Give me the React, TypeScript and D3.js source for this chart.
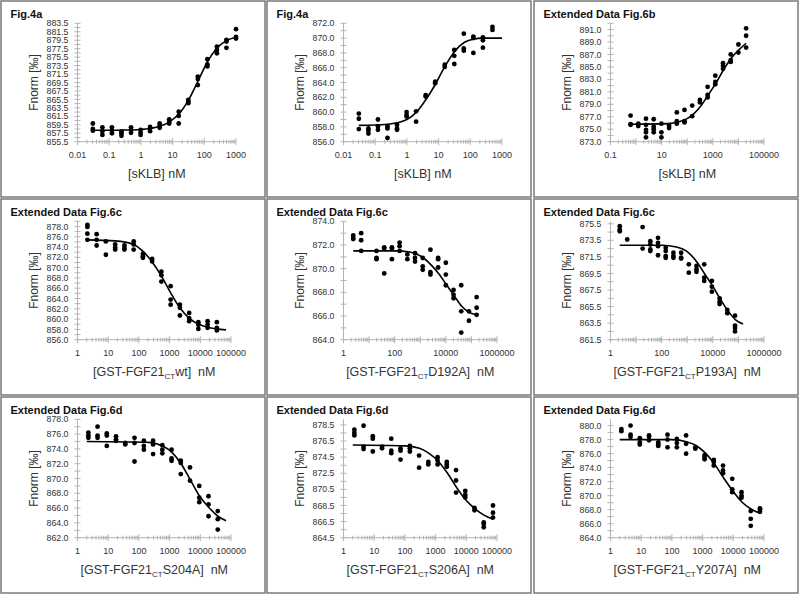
import React from 'react';
import * as d3 from 'd3';

// ---------- data ----------
// Panel 1: Fig.4a  [sKLB]
const p1Conc = [0.0305, 0.061, 0.122, 0.244, 0.488, 0.977, 1.95, 3.91, 7.81, 15.6, 31.3, 62.5, 125, 250, 500, 1000];
const p1Reps = [
  [859.8, 858.5, 858.1], [858.9, 858.0, 857.1], [858.9, 858.1, 857.5], [857.9, 857.5, 856.9],
  [858.9, 858.3, 857.6], [858.3, 857.6, 857.1], [859.0, 858.7, 858.0], [859.8, 859.3, 858.8],
  [860.8, 860.2, 859.8], [862.6, 861.6, 859.8], [865.4, 865.0, 864.6], [870.9, 870.3, 868.9],
  [875.0, 873.8, 873.3], [878.0, 877.2, 876.4], [879.6, 879.2, 877.7], [882.1, 880.3, 879.9],
];
const p1FitX = [0.0305, 0.1, 0.3, 1, 3, 8, 16, 32, 64, 125, 250, 500, 1000];
const p1FitY = [858.2, 858.2, 858.25, 858.4, 858.9, 860.2, 862.1, 865.4, 869.9, 874.4, 877.6, 879.4, 880.2];

// Panel 2: Fig.4a  [sKLB]
const p2Conc = [0.0305, 0.061, 0.122, 0.244, 0.488, 0.977, 1.95, 3.91, 7.81, 15.6, 31.3, 62.5, 125, 250, 500];
const p2Reps = [
  [859.8, 859.1, 857.7], [857.8, 857.5, 857.1], [859.0, 858.1, 857.6], [858.1, 857.8, 856.5],
  [858.3, 857.8, 857.6], [860.0, 859.6, 859.4], [860.1, 858.7], [862.3, 862.1],
  [864.1, 863.9], [866.4, 866.1], [868.4, 867.6, 866.5], [870.6, 868.6, 868.3],
  [870.2, 870.0, 868.0], [870.1, 869.7, 868.7], [871.5, 871.1],
];
const p2FitX = [0.0305, 0.1, 0.3, 1, 2, 4, 8, 16, 32, 64, 125, 250, 500, 1000];
const p2FitY = [858.2, 858.25, 858.4, 859.0, 860.0, 861.7, 863.8, 866.2, 868.2, 869.4, 869.85, 870.0, 870.0, 870.0];

// Panel 3: Extended Data Fig.6b  [sKLB]
const p3Conc = [0.61, 1.22, 2.44, 4.88, 9.77, 19.5, 39.1, 78.1, 156, 313, 625, 1250, 2500, 5000, 10000, 20000];
const p3Reps = [
  [877.2, 875.8, 875.7], [875.9, 875.5], [876.7, 875.7, 874.9, 874.5, 873.7], [876.6, 875.4, 875.0, 874.5],
  [875.9, 874.5, 873.7], [875.6, 875.2], [877.7, 876.3, 875.9], [878.1, 876.3, 876.1],
  [878.8, 877.1], [879.7, 879.3], [881.8, 880.5, 880.1], [883.6, 882.6, 882.2],
  [885.6, 885.2, 884.7], [887.0, 886.1, 885.8], [888.6, 887.3], [891.2, 890.0, 888.1],
];
const p3FitX = [0.61, 17, 79, 170, 363, 660, 1410, 2590, 5210, 10200, 20000];
const p3FitY = [875.8, 875.9, 876.5, 877.4, 878.9, 880.5, 882.6, 884.5, 886.4, 887.7, 888.8];

// Panel 4: Extended Data Fig.6c  wt
const p4Conc = [2.1, 4.2, 8.4, 16.9, 33.8, 67.6, 135, 270, 540, 1080, 2160, 4330, 8650, 17300, 34600];
const p4Reps = [
  [878.3, 877.9, 876.6, 875.4], [876.5, 875.4, 874.3], [875.1, 872.5], [874.5, 873.9, 873.5],
  [874.3, 873.8, 873.5], [875.1, 874.5, 873.5], [872.7, 872.2, 871.9], [871.7, 871.2],
  [869.2, 868.5, 867.3], [866.4, 863.8, 862.8], [862.8, 862.2, 860.7], [861.2, 860.2, 859.6],
  [859.4, 858.9, 858.1], [859.6, 858.9, 858.3], [859.4, 858.3, 857.8],
];
const p4FitX = [2, 17, 67, 134, 263, 526, 1085, 2150, 4330, 8840, 17600, 34500, 68700];
const p4FitY = [875.4, 875.2, 874.5, 873.2, 871.2, 868.5, 865.1, 862.2, 860.2, 859.0, 858.4, 858.1, 857.9];

// Panel 5: Extended Data Fig.6c  D192A
const p5Conc = [2.4, 4.9, 19.5, 39, 78, 156, 313, 625, 1250, 2500, 5000, 10000, 20000, 40000, 80000, 160000];
const p5Reps = [
  [872.8, 872.6, 872.5], [873.0, 872.4, 871.5], [871.5, 870.9, 870.8], [871.8, 871.7, 869.6],
  [871.8, 871.7, 870.8], [872.2, 871.9, 871.5], [871.2, 870.8], [871.3, 870.9, 870.6],
  [870.9, 870.2, 869.9], [871.6, 869.7, 869.5], [870.9, 870.8, 870.1], [870.5, 869.5, 868.6],
  [868.2, 867.8, 867.5], [868.6, 866.4, 864.6], [866.4, 865.6], [867.6, 866.7, 866.1],
];
const p5FitX = [2.4, 100, 400, 1350, 2700, 5200, 10900, 21300, 42600, 82800, 165000];
const p5FitY = [871.5, 871.5, 871.4, 870.9, 870.3, 869.6, 868.6, 867.7, 866.8, 866.3, 866.1];

// Panel 6: Extended Data Fig.6c  P193A
const p6Conc = [2.3, 4.5, 18, 36, 72, 144, 288, 576, 1150, 2300, 4600, 9200, 18400, 36800, 73600];
const p6Reps = [
  [875.2, 874.8, 874.6], [873.6], [875.1, 872.5], [873.4, 873.0, 872.4, 872.2],
  [873.8, 873.2, 872.8, 871.7], [872.6, 872.2, 871.6, 871.4], [872.0, 871.6, 871.4], [872.0, 871.4, 871.3],
  [870.6, 869.6], [870.4, 870.0, 869.7], [870.6, 869.0, 868.6], [868.6, 867.9, 867.3],
  [866.5, 866.1, 865.8], [865.1, 864.7], [864.4, 863.2, 862.9, 862.5],
];
const p6FitX = [2.3, 100, 380, 940, 2500, 4900, 9800, 18800, 36700, 77500, 152000];
const p6FitY = [872.9, 872.9, 872.7, 872.2, 870.8, 869.4, 868.0, 866.5, 865.1, 863.9, 863.4];

// Panel 7: Extended Data Fig.6d  S204A
const p7Conc = [2.26, 4.5, 9, 18, 36, 72, 145, 290, 580, 1160, 2310, 4630, 9250, 18500, 37000];
const p7Reps = [
  [876.2, 875.8, 875.5], [877.0, 875.8, 875.5], [876.1, 875.8, 874.4], [875.7, 875.3, 875.1],
  [874.8, 874.6], [875.5, 874.8, 872.3], [875.1, 874.4, 873.9], [875.1, 874.6, 873.3],
  [874.5, 873.9, 873.4], [873.9, 872.7, 872.4], [872.4, 872.1, 870.6], [871.5, 869.7],
  [869.0, 867.4, 866.8], [867.6, 866.5, 864.9], [865.6, 864.5, 863.1],
];
const p7FitX = [2.0, 181, 594, 1220, 2450, 4890, 9500, 19000, 37600, 69000];
const p7FitY = [875.0, 874.9, 874.4, 873.5, 871.9, 869.7, 867.6, 866.1, 864.9, 864.3];

// Panel 8: Extended Data Fig.6d  S206A
const p8Conc = [2.26, 4.5, 9, 18, 36, 72, 145, 290, 580, 1160, 2310, 4630, 9250, 18500, 37000, 74000];
const p8Reps = [
  [877.9, 877.5, 877.2], [878.4, 875.8, 875.5], [877.1, 876.8, 875.2], [875.8, 875.6],
  [876.8, 875.3, 875.0], [875.6, 875.3, 874.2], [875.9, 875.6, 875.2], [874.7, 873.2],
  [873.9, 873.6], [874.5, 874.1, 873.6], [873.9, 873.6, 873.3], [872.9, 871.6, 870.1],
  [870.3, 869.8, 869.5], [868.2, 867.9], [866.4, 866.2, 865.8], [868.5, 867.6, 867.0],
];
const p8FitX = [2.0, 100, 297, 594, 1220, 2450, 4890, 9500, 19000, 37600, 74000];
const p8FitY = [876.0, 875.9, 875.6, 875.0, 874.0, 872.5, 870.7, 869.2, 868.1, 867.3, 866.8];

// Panel 9: Extended Data Fig.6d  Y207A
const p9Conc = [2.26, 4.5, 9, 18, 36, 72, 145, 290, 580, 1160, 2310, 4630, 9250, 18500, 37000, 74000];
const p9Reps = [
  [879.5, 879.2], [880.0, 878.7, 878.4], [878.2, 877.6, 877.3], [878.6, 878.4, 877.9],
  [877.6, 877.3, 877.1], [878.7, 878.0, 876.9], [878.1, 877.5, 876.9], [878.6, 877.4, 876.0],
  [876.9, 876.7], [875.8, 875.5, 875.2], [875.1, 874.8, 874.3], [874.3, 873.6, 873.2],
  [872.4, 870.9, 870.5], [870.5, 870.0, 869.7], [867.8, 866.7, 865.7], [868.2, 868.0, 867.7],
];
const p9FitX = [2.0, 100, 297, 594, 1220, 2450, 4890, 9500, 19000, 37600, 74000];
const p9FitY = [878.0, 878.0, 877.7, 877.2, 876.1, 874.5, 872.5, 870.7, 869.1, 868.1, 867.5];

// Titles, axis labels, tick labels
const titles = [
  'Fig.4a', 'Fig.4a', 'Extended Data Fig.6b',
  'Extended Data Fig.6c', 'Extended Data Fig.6c', 'Extended Data Fig.6c',
  'Extended Data Fig.6d', 'Extended Data Fig.6d', 'Extended Data Fig.6d',
];
const xTitles: [string, string, string][] = [
  ['[sKLB] nM', '', ''], ['[sKLB] nM', '', ''], ['[sKLB] nM', '', ''],
  ['[GST-FGF21', 'CT', 'wt]\u00a0 nM'], ['[GST-FGF21', 'CT', 'D192A]\u00a0 nM'], ['[GST-FGF21', 'CT', 'P193A]\u00a0 nM'],
  ['[GST-FGF21', 'CT', 'S204A]\u00a0 nM'], ['[GST-FGF21', 'CT', 'S206A]\u00a0 nM'], ['[GST-FGF21', 'CT', 'Y207A]\u00a0 nM'],
];
const xTickLabels = [
  [0.01, 0.1, 1, 10, 100, 1000], [0.01, 0.1, 1, 10, 100, 1000], [0.1, 10, 1000, 100000],
  [1, 10, 100, 1000, 10000, 100000], [1, 100, 10000, 1000000], [1, 100, 10000, 1000000],
  [1, 10, 100, 1000, 10000, 100000], [1, 10, 100, 1000, 10000, 100000], [1, 10, 100, 1000, 10000, 100000],
];
const xDomains: [number, number][] = [
  [0.01, 1000], [0.01, 1000], [0.1, 100000],
  [1, 100000], [1, 1000000], [1, 1000000],
  [1, 100000], [1, 100000], [1, 100000],
];
const yDomains: [number, number][] = [
  [855.5, 883.5], [856, 872], [873, 892],
  [856, 879], [864, 874], [861.5, 875.8],
  [862, 878], [864.5, 879.2], [864, 880.9],
];
const yLabelStart = [855.5, 856, 873, 856, 864, 861.5, 862, 864.5, 864];
const yLabelStep = [2, 2, 2, 2, 2, 2, 2, 2, 2];

const concs = [p1Conc, p2Conc, p3Conc, p4Conc, p5Conc, p6Conc, p7Conc, p8Conc, p9Conc];
const reps = [p1Reps, p2Reps, p3Reps, p4Reps, p5Reps, p6Reps, p7Reps, p8Reps, p9Reps];
const fitXs = [p1FitX, p2FitX, p3FitX, p4FitX, p5FitX, p6FitX, p7FitX, p8FitX, p9FitX];
const fitYs = [p1FitY, p2FitY, p3FitY, p4FitY, p5FitY, p6FitY, p7FitY, p8FitY, p9FitY];

// ---------- layout ----------
const COLS = [0, 266, 533];
const ROWS = [0, 198, 396];
const PLOT_LEFT = 77.5;
const PLOT_TOP = 23.3;
const PLOT_BOTTOM = 141.7;
const FONT = 'Liberation Sans, Arial, sans-serif';
const AXIS_COLOR = '#b4b4b4';

function Panel({ i }: { i: number }) {
  const ox = COLS[i % 3];
  const oy = ROWS[Math.floor(i / 3)];
  const xEnd = i < 2 ? 236 : 231;
  const xs = d3.scaleLog().domain(xDomains[i]).range([PLOT_LEFT, xEnd]);
  const ys = d3.scaleLinear().domain(yDomains[i]).range([PLOT_BOTTOM, PLOT_TOP]);
  const [y0, y1] = yDomains[i];
  const yLabels = d3.range(yLabelStart[i], y1 + 1e-6, yLabelStep[i]);
  const yMinor = d3.range(y0, y1 + 1e-6, 1);
  const [xd0, xd1] = xDomains[i];
  const decades = d3.range(Math.round(Math.log10(xd0)), Math.round(Math.log10(xd1)) + 1).map((e) => Math.pow(10, e));
  const xMinor: number[] = [];
  decades.slice(0, -1).forEach((d) => {
    for (let k = 2; k <= 9; k++) xMinor.push(k * d);
  });
  const fitPts: [number, number][] = fitXs[i].map((x, j) => [xs(x), ys(fitYs[i][j])]);
  const line = d3.line<[number, number]>().x((d) => d[0]).y((d) => d[1]).curve(d3.curveMonotoneX);
  const pts: { x: number; y: number }[] = [];
  concs[i].forEach((c, j) => reps[i][j].forEach((v) => pts.push({ x: c, y: v })));
  const xt = xTitles[i];
  const xCenter = (PLOT_LEFT + xEnd) / 2;

  return (
    <g transform={`translate(${ox},${oy})`}>
      <rect x={1} y={1} width={264} height={196} fill="#fff" stroke="#7a7a7a" strokeWidth={1.5} />
      <text x={10.5} y={17.5} fontFamily={FONT} fontWeight="bold" fontSize={11} fill="#111">{titles[i]}</text>
      {/* axes */}
      <line x1={PLOT_LEFT} x2={PLOT_LEFT} y1={PLOT_TOP} y2={PLOT_BOTTOM} stroke={AXIS_COLOR} strokeWidth={1} />
      <line x1={PLOT_LEFT} x2={xEnd} y1={PLOT_BOTTOM} y2={PLOT_BOTTOM} stroke={AXIS_COLOR} strokeWidth={1} />
      {yMinor.map((v) => (
        <line key={'ym' + v} x1={PLOT_LEFT - 3} x2={PLOT_LEFT + 3} y1={ys(v)} y2={ys(v)} stroke={AXIS_COLOR} strokeWidth={1} />
      ))}
      {decades.map((d) => (
        <line key={'xd' + d} x1={xs(d)} x2={xs(d)} y1={PLOT_BOTTOM - 3.5} y2={PLOT_BOTTOM + 3.5} stroke={AXIS_COLOR} strokeWidth={1} />
      ))}
      {xMinor.map((d) => (
        <line key={'xm' + d} x1={xs(d)} x2={xs(d)} y1={PLOT_BOTTOM - 2} y2={PLOT_BOTTOM + 2} stroke={AXIS_COLOR} strokeWidth={1} />
      ))}
      {yLabels.map((v) => (
        <text key={'yl' + v} x={68.5} y={ys(v) + 3.1} textAnchor="end" fontFamily={FONT} fontSize={8.8} fill="#333">
          {v.toFixed(1)}
        </text>
      ))}
      {xTickLabels[i].map((v) => (
        <text key={'xl' + v} x={xs(v)} y={157.5} textAnchor="middle" fontFamily={FONT} fontSize={9} fill="#333">
          {String(v)}
        </text>
      ))}
      {/* axis titles */}
      <text x={xCenter} y={177.5} textAnchor="middle" fontFamily={FONT} fontSize={12.5} fill="#333">
        {xt[0]}
        {xt[1] ? <tspan fontSize={8} dy={3}>{xt[1]}</tspan> : null}
        {xt[2] ? <tspan dy={-3}>{xt[2]}</tspan> : null}
      </text>
      <text transform={`translate(38,${(PLOT_TOP + PLOT_BOTTOM) / 2}) rotate(-90)`} textAnchor="middle"
        fontFamily={FONT} fontSize={12} fill="#333">Fnorm [‰]</text>
      {/* fit */}
      <path d={line(fitPts) || ''} fill="none" stroke="#000" strokeWidth={1.6} />
      {/* points */}
      {pts.map((p, k) => (
        <circle key={'p' + k} cx={xs(p.x)} cy={ys(p.y)} r={2.4} fill="#000" />
      ))}
    </g>
  );
}

export default function App() {
  return (
    <svg width={800} height={596} style={{ position: 'absolute', left: 0, top: 0, background: '#fff' }}>
      <rect x={0} y={0} width={800} height={596} fill="#fff" />
      {d3.range(9).map((i) => (
        <Panel key={i} i={i} />
      ))}
    </svg>
  );
}
